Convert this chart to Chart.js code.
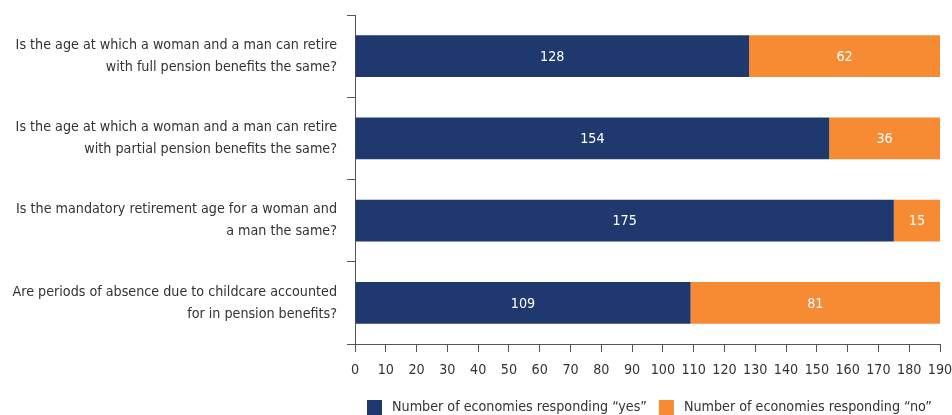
<!DOCTYPE html>
<html><head><meta charset="utf-8">
<script src="https://cdn.jsdelivr.net/npm/chart.js@4"></script>
<style>html,body{margin:0;padding:0;background:#fff}#w{width:952px;height:415px;position:relative}</style>
</head><body><div id="w"><canvas id="c"></canvas></div>
<script>
const categories = [
  ["Is the age at which a woman and a man can retire","with full pension benefits the same?"],
  ["Is the age at which a woman and a man can retire","with partial pension benefits the same?"],
  ["Is the mandatory retirement age for a woman and","a man the same?"],
  ["Are periods of absence due to childcare accounted","for in pension benefits?"]
];
const yesValues = [128, 154, 175, 109];
const noValues = [62, 36, 15, 81];
const seriesNames = ["Number of economies responding \u201cyes\u201d", "Number of economies responding \u201cno\u201d"];
const xMin = 0, xMax = 190, xStep = 10;

const FONT = "'Liberation Sans Narrow','DejaVu Sans Condensed',sans-serif";
const FS = 14.2;
const navy = '#1f386d', orange = '#f68b33';

const valueLabels = {
  id: 'valueLabels',
  afterDatasetsDraw(chart) {
    const ctx = chart.ctx;
    ctx.save();
    ctx.fillStyle = '#fff';
    ctx.font = FS + 'px ' + FONT;
    ctx.textAlign = 'center';
    ctx.textBaseline = 'middle';
    chart.data.datasets.forEach((ds, i) => {
      chart.getDatasetMeta(i).data.forEach((bar, j) => {
        const x = (bar.x + bar.base) / 2;
        ctx.fillText(String(ds.data[j]), x, bar.y + 1);
      });
    });
    ctx.restore();
  }
};

const customLegend = {
  id: 'customLegend',
  afterDraw(chart) {
    const ctx = chart.ctx;
    ctx.save();
    ctx.font = FS + 'px ' + FONT;
    ctx.textBaseline = 'middle';
    ctx.textAlign = 'left';
    let x = chart.chartArea.left + 12;
    const yc = chart.height - 8;
    chart.data.datasets.forEach((ds) => {
      ctx.fillStyle = ds.backgroundColor;
      ctx.fillRect(x, yc - 7, 15, 15);
      x += 15 + 10;
      ctx.fillStyle = '#333';
      ctx.fillText(ds.label, x, yc);
      x += ctx.measureText(ds.label).width + 12;
    });
    ctx.restore();
  }
};

new Chart(document.getElementById('c'), {
  type: 'bar',
  data: {
    labels: categories,
    datasets: [
      { label: seriesNames[0], data: yesValues, backgroundColor: navy, barPercentage: 0.51, categoryPercentage: 1 },
      { label: seriesNames[1], data: noValues, backgroundColor: orange, barPercentage: 0.51, categoryPercentage: 1 }
    ]
  },
  options: {
    indexAxis: 'y',
    responsive: true,
    maintainAspectRatio: false,
    animation: false,
    layout: { padding: { top: 15, right: 12, left: 0, bottom: 31 } },
    plugins: {
      tooltip: { enabled: false },
      legend: { display: false }
    },
    scales: {
      x: {
        stacked: true, min: xMin, max: xMax,
        ticks: { stepSize: xStep, font: { family: FONT, size: FS }, color: '#333', padding: 10, maxRotation: 0, autoSkip: false },
        grid: { drawOnChartArea: false, drawTicks: true, tickLength: 8, color: '#555' },
        border: { color: '#555', width: 1 },
        afterFit(s) { s.height = 40; s.paddingLeft = 0; s.paddingRight = 0; }
      },
      y: {
        stacked: true,
        ticks: { font: { family: FONT, size: FS, lineHeight: 1.55 }, color: '#333', padding: 10 },
        grid: { offset: true, drawOnChartArea: false, drawTicks: true, tickLength: 8, color: '#555' },
        border: { color: '#555', width: 1 },
        afterFit(s) { s.width = 355; s.paddingTop = 0; s.paddingBottom = 0; }
      }
    }
  },
  plugins: [valueLabels, customLegend]
});
</script></body></html>
